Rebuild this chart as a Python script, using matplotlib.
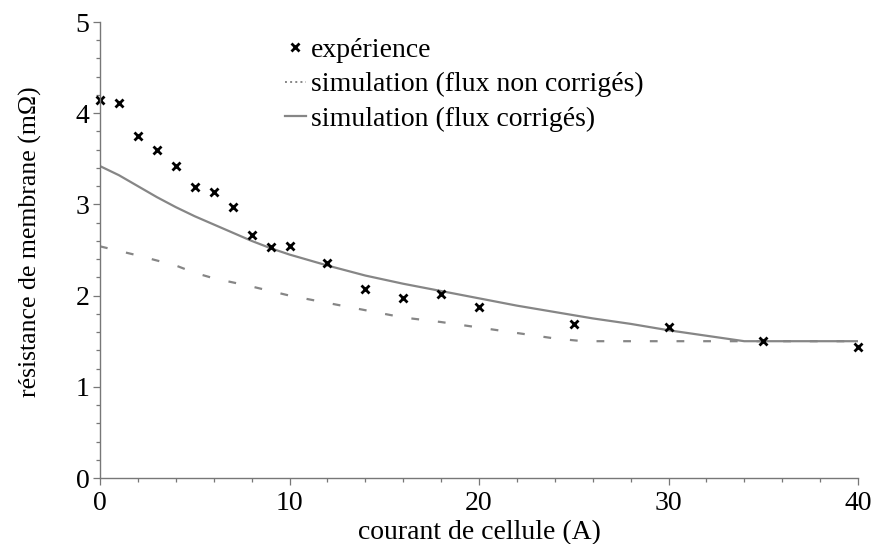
import matplotlib
matplotlib.use('Agg')
import numpy as np
import matplotlib.pyplot as plt
from matplotlib.lines import Line2D
from matplotlib.ticker import MultipleLocator

plt.rcParams['font.family'] = ['Liberation Serif', 'DejaVu Serif']

# experimental points
exp_i = [0, 1, 2, 3, 4, 5, 6, 7, 8, 9, 10, 12, 14, 16, 18, 20, 25, 30, 35, 40]
exp_r = [4.15, 4.11, 3.75, 3.60, 3.42, 3.19, 3.14, 2.97, 2.66, 2.53, 2.54,
         2.36, 2.07, 1.97, 2.02, 1.87, 1.69, 1.66, 1.50, 1.44]

# simulation, uncorrected fluxes
nc_i = [0, 2, 4, 5, 6, 8, 10, 12, 14, 16, 18, 20, 22, 24, 25.5, 40]
nc_r = [2.54, 2.44, 2.33, 2.25, 2.19, 2.10, 2.00, 1.92, 1.84, 1.76, 1.71,
        1.65, 1.59, 1.53, 1.50, 1.50]

# simulation, corrected fluxes
c_i = [0, 1, 2, 3, 4, 5, 6, 7, 8, 9, 10, 12, 14, 16, 18, 20, 22, 24, 26, 28,
       30, 32, 34, 40]
c_r = [3.42, 3.32, 3.20, 3.08, 2.97, 2.87, 2.78, 2.69, 2.60, 2.52, 2.45,
       2.33, 2.22, 2.13, 2.05, 1.97, 1.89, 1.82, 1.75, 1.69, 1.62, 1.56,
       1.50, 1.50]

labels = ['expérience', 'simulation (flux non corrigés)',
          'simulation (flux corrigés)']

gray = '#868686'
axcol = '#777777'

fig = plt.figure(figsize=(8.73, 5.44), dpi=100)
ax = fig.add_axes([100 / 873, 1 - 478 / 544, 758 / 873, 456 / 544])

ax.plot(nc_i, nc_r, color=gray, lw=1.6, linestyle=(0, (3.5, 8.5)))
ax.plot(c_i, c_r, color=gray, lw=1.6)
ax.plot(exp_i, exp_r, 'x', color='black', ms=6, mew=2, clip_on=False)

ax.set_xlim(0, 40)
ax.set_ylim(0, 5)
ax.xaxis.set_major_locator(MultipleLocator(10))
ax.xaxis.set_minor_locator(MultipleLocator(2))
ax.yaxis.set_major_locator(MultipleLocator(1))
ax.yaxis.set_minor_locator(MultipleLocator(0.2))

for s in ['top', 'right']:
    ax.spines[s].set_visible(False)
for s in ['left', 'bottom']:
    ax.spines[s].set_color(axcol)
    ax.spines[s].set_linewidth(1.0)

ax.tick_params(which='major', direction='out', length=5, width=0.9,
               color=axcol, labelsize=20)
ax.tick_params(axis='x', which='major', pad=4.5)
ax.tick_params(axis='y', which='major', pad=2.5)
ax.tick_params(which='minor', direction='out', length=3, width=0.9,
               color=axcol)

ax.set_xlabel('courant de cellule (A)', fontsize=20, labelpad=3)
ax.set_ylabel('résistance de membrane (mΩ)', fontsize=18.5)
ax.yaxis.set_label_coords(-0.0765, 0.5175)

handles = [
    Line2D([], [], marker='x', color='black', ls='none', ms=6, mew=2),
    Line2D([], [], color=gray, lw=1.4, ls=':'),
    Line2D([], [], color=gray, lw=1.6),
]
ax.legend(handles, labels, loc='upper left', bbox_to_anchor=(0.229, 0.99),
          frameon=False, fontsize=20, handlelength=0.75, handletextpad=0.2,
          labelspacing=0.32, borderaxespad=0)

fig.savefig('out.png', dpi=100)
